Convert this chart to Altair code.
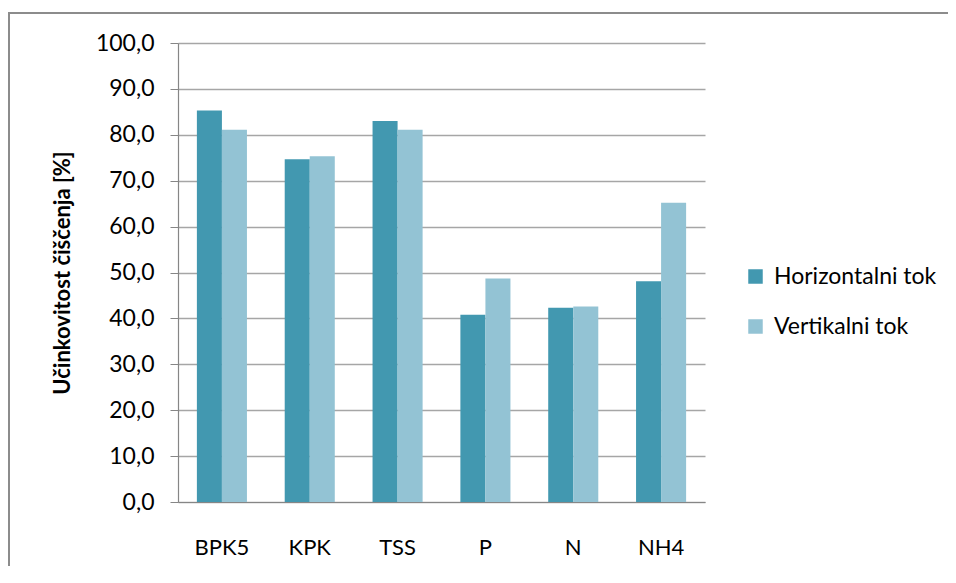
import altair as alt
import pandas as pd

categories = ["BPK5", "KPK", "TSS", "P", "N", "NH4"]
series = ["Horizontalni tok", "Vertikalni tok"]
horizontalni = [85.3, 74.7, 83.0, 40.8, 42.3, 48.1]
vertikalni = [81.1, 75.3, 81.1, 48.7, 42.6, 65.2]
colors = ["#4298B0", "#93C3D4"]

rows = []
for c, h, v in zip(categories, horizontalni, vertikalni):
    rows.append({"cat": c, "serija": series[0], "vrijednost": h})
    rows.append({"cat": c, "serija": series[1], "vrijednost": v})
df = pd.DataFrame(rows)

FONT = "Lato"
W, H = 527, 459

bars = alt.Chart(df).mark_bar().encode(
    x=alt.X(
        "cat:N",
        sort=categories,
        scale=alt.Scale(paddingInner=0.43, paddingOuter=0.215),
        axis=alt.Axis(
            title=None,
            labelAngle=0,
            ticks=False,
            labelPadding=35,
            labelFont=FONT,
            labelFontSize=22,
            labelColor="#000000",
            domainColor="#868686",
            domainWidth=1.2,
            grid=False,
        ),
    ),
    xOffset=alt.XOffset("serija:N", sort=series, scale=alt.Scale(paddingInner=0, paddingOuter=0)),
    y=alt.Y(
        "vrijednost:Q",
        scale=alt.Scale(domain=[0, 100], nice=False),
        axis=alt.Axis(
            title="Učinkovitost čiščenja [%]",
            values=list(range(0, 101, 10)),
            labelExpr="replace(format(datum.value, '.1f'), '.', ',')",
            labelFont=FONT,
            labelFontSize=23,
            labelColor="#000000",
            labelPadding=16,
            tickSize=8,
            tickColor="#868686",
            domainColor="#868686",
            domainWidth=1.2,
            gridColor="#A6A6A6",
            gridWidth=1.5,
            titleFont=FONT,
            titleFontSize=22,
            titleFontWeight="bold",
            titleColor="#000000",
            titleX=-116,
            titleY=H / 2,
            titleAlign="center",
            titleBaseline="middle",
        ),
    ),
    color=alt.Color(
        "serija:N",
        sort=series,
        scale=alt.Scale(domain=series, range=colors),
        legend=alt.Legend(
            title=None,
            orient="none",
            legendX=566,
            legendY=222,
            symbolType="square",
            symbolSize=210,
            symbolStrokeWidth=0,
            labelFont=FONT,
            labelFontSize=23,
            labelColor="#000000",
            labelOffset=7,
            rowPadding=26,
            padding=0,
            labelLimit=400,
        ),
    ),
)

frame = pd.DataFrame({"d": [0]})
border_left = alt.Chart(frame).mark_rect(
    fill="#8C8C8C", strokeWidth=0, clip=False
).encode(x=alt.value(-170), x2=alt.value(-168), y=alt.value(-31), y2=alt.value(540))
border_top = alt.Chart(frame).mark_rect(
    fill="#8C8C8C", strokeWidth=0, clip=False
).encode(x=alt.value(-170), x2=alt.value(800), y=alt.value(-31), y2=alt.value(-29))

chart = alt.layer(border_left, border_top, bars).properties(
    width=W,
    height=H,
    autosize=alt.AutoSizeParams(type="none"),
    padding={"left": 170, "top": 35, "right": 243, "bottom": 64},
).configure_view(strokeWidth=0)

chart.save("out.html", embed_options={"renderer": "svg", "actions": False})
